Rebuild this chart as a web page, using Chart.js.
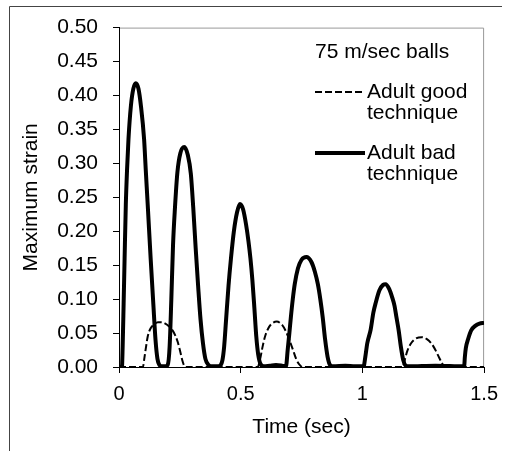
<!DOCTYPE html>
<html>
<head>
<meta charset="utf-8">
<script src="https://cdn.jsdelivr.net/npm/chart.js@4.4.0/dist/chart.umd.min.js"></script>
<style>
  html, body { margin: 0; padding: 0; background: #fff; }
  #wrap { position: relative; width: 507px; height: 451px; }
</style>
</head>
<body>
<div id="wrap"><canvas id="StrainChart" width="507" height="451"></canvas></div>
<script>
// Maximum strain vs time, 75 m/sec balls //
var legendTitle = "75 m/sec balls";
var goodLabel = ["Adult good", "technique"];
var badLabel = ["Adult bad", "technique"];

var goodTime = [0, 0.098, 0.105, 0.112, 0.118, 0.13, 0.145, 0.16, 0.175, 0.19, 0.205, 0.22, 0.232, 0.242, 0.252, 0.26, 0.268, 0.28,
  0.57, 0.58, 0.59, 0.6, 0.612, 0.625, 0.648, 0.67, 0.685, 0.7, 0.715, 0.73, 0.745, 0.755,
  1.165, 1.175, 1.185, 1.2, 1.22, 1.244, 1.265, 1.285, 1.3, 1.315, 1.328, 1.338, 1.5];
var goodStrain = [0, 0, 0.015, 0.032, 0.045, 0.057, 0.063, 0.066, 0.066, 0.064, 0.06, 0.054, 0.046, 0.036, 0.022, 0.01, 0.002, 0,
  0, 0.012, 0.03, 0.045, 0.056, 0.063, 0.067, 0.062, 0.053, 0.04, 0.025, 0.01, 0.002, 0,
  0, 0.012, 0.024, 0.035, 0.042, 0.044, 0.041, 0.034, 0.025, 0.014, 0.005, 0, 0];

var badTime = [0, 0.012, 0.015, 0.019, 0.023, 0.028, 0.033, 0.039, 0.049, 0.059, 0.069, 0.08, 0.09, 0.103, 0.11, 0.118, 0.13, 0.141, 0.15, 0.158, 0.166, 0.176, 0.19,
  0.2, 0.208, 0.215, 0.222, 0.23, 0.24, 0.252, 0.268, 0.283, 0.295, 0.305, 0.315, 0.325, 0.335, 0.345, 0.355, 0.368, 0.38, 0.405,
  0.418, 0.425, 0.432, 0.44, 0.45, 0.46, 0.472, 0.485, 0.497, 0.51, 0.522, 0.532, 0.54, 0.548, 0.556, 0.564, 0.572, 0.582, 0.595, 0.62, 0.645, 0.67, 0.686,
  0.693, 0.7, 0.706, 0.714, 0.722, 0.735, 0.75, 0.77, 0.79, 0.805, 0.817, 0.827, 0.837, 0.847, 0.857, 0.867, 0.88, 0.93, 0.97, 1.005,
  1.012, 1.02, 1.034, 1.045, 1.055, 1.07, 1.085, 1.095, 1.11, 1.122, 1.132, 1.14, 1.149, 1.158, 1.168, 1.178, 1.19, 1.3, 1.418,
  1.421, 1.425, 1.435, 1.447, 1.465, 1.481, 1.5];
var badStrain = [0, 0, 0.03, 0.093, 0.16, 0.239, 0.29, 0.336, 0.385, 0.41, 0.418, 0.41, 0.385, 0.336, 0.29, 0.239, 0.16, 0.093, 0.04, 0.012, 0.003, 0.001, 0.001,
  0.003, 0.03, 0.1, 0.18, 0.235, 0.287, 0.315, 0.324, 0.312, 0.285, 0.235, 0.175, 0.12, 0.07, 0.035, 0.012, 0.003, 0.001, 0.001,
  0.003, 0.01, 0.03, 0.07, 0.12, 0.16, 0.2, 0.228, 0.24, 0.232, 0.21, 0.185, 0.16, 0.128, 0.088, 0.045, 0.018, 0.004, 0.001, 0.002, 0.003, 0.002, 0.001,
  0.025, 0.05, 0.073, 0.1, 0.122, 0.145, 0.158, 0.162, 0.155, 0.14, 0.122, 0.1, 0.073, 0.04, 0.015, 0.003, 0.001, 0.002, 0.001, 0.001,
  0.015, 0.035, 0.055, 0.08, 0.095, 0.113, 0.121, 0.122, 0.115, 0.103, 0.09, 0.073, 0.054, 0.03, 0.01, 0.002, 0.001, 0.002, 0.001,
  0.015, 0.028, 0.042, 0.054, 0.061, 0.064, 0.065];

var yTicks = [0, 0.05, 0.1, 0.15, 0.2, 0.25, 0.3, 0.35, 0.4, 0.45, 0.5];
var xTicks = [0, 0.5, 1, 1.5];

function toPoints(xs, ys) {
  return xs.map(function (x, i) { return { x: x, y: ys[i] }; });
}

var FONT = "'Liberation Sans', Arial, sans-serif";

// frame + plot box + legend text
var decor = {
  id: "decor",
  beforeDraw: function (chart) {
    var c = chart.ctx, a = chart.chartArea;
    c.save();
    c.strokeStyle = "#444";
    c.lineWidth = 1;
    c.beginPath();
    c.moveTo(9.5, 451);
    c.lineTo(9.5, 6.5);
    c.lineTo(502, 6.5);
    c.stroke();
    c.strokeStyle = "#999";
    c.beginPath();
    c.moveTo(a.left, a.top + 0.5);
    c.lineTo(a.right - 0.5, a.top + 0.5);
    c.lineTo(a.right - 0.5, a.bottom);
    c.stroke();
    c.restore();
  },
  afterDraw: function (chart) {
    var c = chart.ctx;
    c.save();
    c.fillStyle = "#000";
    c.font = "21px " + FONT;
    c.textBaseline = "middle";
    c.textAlign = "left";
    c.fillText(legendTitle, 315, 52);
    var ds = chart.data.datasets;
    var rows = [92, 153];
    ds.forEach(function (d, i) {
      var y = rows[i];
      c.strokeStyle = d.borderColor;
      c.lineWidth = d.borderWidth;
      c.setLineDash(d.borderDash || []);
      c.beginPath();
      c.moveTo(315, y);
      c.lineTo(365, y);
      c.stroke();
      c.setLineDash([]);
      d.label.forEach(function (t, k) {
        c.fillText(t, 367, y + k * 21);
      });
    });
    c.restore();
  }
};

var ctx = document.getElementById("StrainChart").getContext("2d");
var myChart = new Chart(ctx, {
  type: "line",
  data: {
    datasets: [
      {
        label: goodLabel,
        data: toPoints(goodTime, goodStrain),
        fill: false,
        borderColor: "#000",
        borderWidth: 2,
        borderDash: [7, 3],
        pointRadius: 0,
        cubicInterpolationMode: "monotone",
      },
      {
        label: badLabel,
        data: toPoints(badTime, badStrain),
        fill: false,
        borderColor: "#000",
        borderWidth: 4,
        pointRadius: 0,
        cubicInterpolationMode: "monotone",
      },
    ],
  },
  options: {
    responsive: false,
    animation: false,
    events: [],
    layout: { padding: { top: 24, right: 19, left: 0, bottom: 0 } },
    plugins: { legend: { display: false }, tooltip: { enabled: false } },
    scales: {
      x: {
        type: "linear",
        min: 0,
        max: 1.5,
        afterBuildTicks: function (s) { s.ticks = xTicks.map(function (v) { return { value: v }; }); },
        afterFit: function (s) { s.height = 84; },
        ticks: {
          color: "#000",
          font: { family: FONT, size: 20 },
          padding: 9,
          maxRotation: 0,
          callback: function (v) { return String(v); },
        },
        grid: { drawOnChartArea: false, drawTicks: true, tickLength: 6, color: "#000" },
        border: { color: "#000", width: 1 },
        title: {
          display: true,
          text: "Time (sec)",
          color: "#000",
          font: { family: FONT, size: 21 },
          padding: { top: 0, bottom: 11 },
        },
      },
      y: {
        min: 0,
        max: 0.5,
        afterBuildTicks: function (s) { s.ticks = yTicks.map(function (v) { return { value: v }; }); },
        afterFit: function (s) { s.width = 119; },
        ticks: {
          color: "#000",
          font: { family: FONT, size: 21 },
          padding: 15,
          callback: function (v) { return v.toFixed(2); },
        },
        grid: { drawOnChartArea: false, drawTicks: true, tickLength: 6, color: "#000" },
        border: { color: "#000", width: 1 },
        title: {
          display: true,
          text: "Maximum strain",
          color: "#000",
          font: { family: FONT, size: 21 },
          padding: { top: 19, bottom: 0 },
        },
      },
    },
  },
  plugins: [decor],
});
</script>
</body>
</html>
